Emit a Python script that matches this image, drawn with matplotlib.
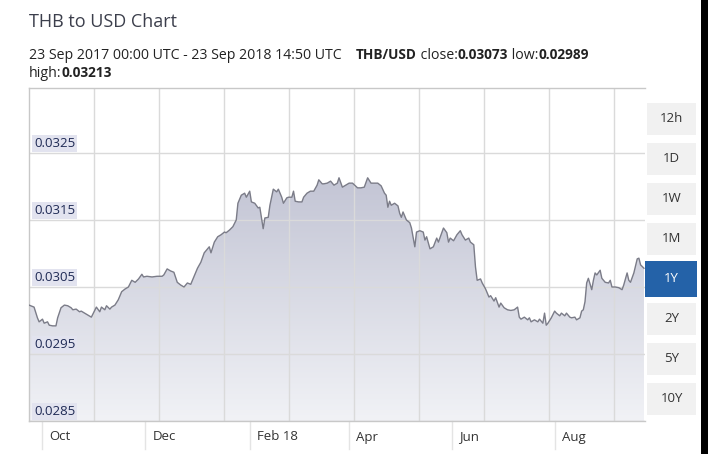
import numpy as np
import matplotlib.pyplot as plt
import matplotlib.dates as mdates
from matplotlib.colors import LinearSegmentedColormap
from matplotlib.patches import Rectangle

plt.rcParams['font.family'] = ['Open Sans', 'DejaVu Sans']

start = np.datetime64('2017-09-23')
end = np.datetime64('2018-09-23T14:50')

# days after 23 Sep 2017
days = [0, 3, 5, 6, 8, 9, 11, 12, 14, 16, 17, 19, 21, 23, 25, 26, 28, 30, 31, 33,
        35, 37, 38, 40, 42, 43, 45, 46, 48, 49, 51, 53, 55, 57, 59, 61, 63, 65, 67, 68,
        70, 73, 76, 79, 80, 82, 84, 86, 88, 90, 92, 94, 96, 98, 100, 102, 104, 105, 107, 108,
        110, 112, 114, 116, 117, 119, 121, 123, 124, 126, 128, 129, 131, 132, 134, 136, 137, 139, 140, 142,
        143, 145, 147, 148, 150, 151, 153, 154, 156, 157, 158, 160, 162, 163, 165, 167, 169, 171, 172, 174,
        175, 177, 179, 181, 183, 184, 186, 188, 190, 192, 195, 197, 199, 201, 203, 205, 207, 209, 211, 212,
        213, 214, 215, 217, 219, 220, 221, 222, 224, 226, 227, 229, 230, 232, 234, 235, 236, 238, 240, 242,
        243, 245, 246, 248, 249, 250, 252, 254, 256, 257, 259, 261, 262, 264, 265, 266, 268, 269, 271, 273,
        274, 276, 277, 279, 280, 282, 284, 286, 288, 290, 291, 292, 294, 296, 297, 298, 300, 302, 303, 305,
        306, 307, 308, 310, 312, 313, 315, 316, 318, 319, 321, 322, 324, 325, 327, 328, 329, 330, 331, 332,
        334, 335, 336, 337, 339, 340, 342, 344, 345, 346, 348, 350, 352, 353, 355, 356, 357, 359, 361, 362,
        363, 365]
rate = [0.03023, 0.03020, 0.03004, 0.02998, 0.03002, 0.02996, 0.02998, 0.02993, 0.02992, 0.02992,
        0.03004, 0.03019, 0.03023, 0.03022, 0.03019, 0.03016, 0.03017, 0.03013, 0.03014, 0.03011,
        0.03008, 0.03005, 0.03010, 0.03020, 0.03013, 0.03020, 0.03016, 0.03022, 0.03017, 0.03020,
        0.03023, 0.03031, 0.03043, 0.03047, 0.03050, 0.03060, 0.03057, 0.03062, 0.03069, 0.03065,
        0.03066, 0.03065, 0.03066, 0.03066, 0.03068, 0.03077, 0.03074, 0.03072, 0.03057, 0.03053,
        0.03050, 0.03056, 0.03054, 0.03066, 0.03078, 0.03087, 0.03101, 0.03104, 0.03110, 0.03101,
        0.03117, 0.03125, 0.03128, 0.03132, 0.03131, 0.03135, 0.03140, 0.03150, 0.03175, 0.03187,
        0.03190, 0.03184, 0.03193, 0.03177, 0.03175, 0.03168, 0.03169, 0.03137, 0.03153, 0.03154,
        0.03172, 0.03196, 0.03192, 0.03196, 0.03184, 0.03175, 0.03183, 0.03184, 0.03184, 0.03193,
        0.03178, 0.03177, 0.03177, 0.03184, 0.03190, 0.03193, 0.03193, 0.03202, 0.03210, 0.03204,
        0.03204, 0.03205, 0.03208, 0.03202, 0.03205, 0.03213, 0.03199, 0.03202, 0.03205, 0.03205,
        0.03198, 0.03198, 0.03199, 0.03213, 0.03205, 0.03205, 0.03205, 0.03201, 0.03190, 0.03187,
        0.03169, 0.03178, 0.03172, 0.03175, 0.03171, 0.03160, 0.03154, 0.03162, 0.03150, 0.03146,
        0.03138, 0.03110, 0.03132, 0.03134, 0.03132, 0.03120, 0.03125, 0.03107, 0.03110, 0.03123,
        0.03117, 0.03131, 0.03138, 0.03131, 0.03117, 0.03123, 0.03119, 0.03128, 0.03134, 0.03128,
        0.03120, 0.03123, 0.03117, 0.03113, 0.03080, 0.03060, 0.03062, 0.03056, 0.03047, 0.03035,
        0.03037, 0.03029, 0.03034, 0.03020, 0.03026, 0.03019, 0.03016, 0.03015, 0.03016, 0.03020,
        0.03005, 0.03002, 0.03005, 0.03001, 0.03004, 0.02998, 0.03001, 0.02998, 0.03002, 0.02996,
        0.03011, 0.02993, 0.02996, 0.03004, 0.03014, 0.03011, 0.03007, 0.03011, 0.03007, 0.03011,
        0.03005, 0.03004, 0.03005, 0.03001, 0.03004, 0.03014, 0.03016, 0.03028, 0.03056, 0.03063,
        0.03046, 0.03060, 0.03071, 0.03068, 0.03075, 0.03063, 0.03057, 0.03056, 0.03060, 0.03050,
        0.03050, 0.03049, 0.03046, 0.03053, 0.03071, 0.03060, 0.03057, 0.03071, 0.03092, 0.03093,
        0.03083, 0.03078]

y_ticks = [0.0285, 0.0295, 0.0305, 0.0315, 0.0325]
y_labels = ['0.0285', '0.0295', '0.0305', '0.0315', '0.0325']
month_starts = ['2017-10-01', '2017-12-01', '2018-02-01', '2018-04-01', '2018-06-01', '2018-08-01']
month_labels = ['Oct', 'Dec', 'Feb 18', 'Apr', 'Jun', 'Aug']
buttons = ['12h', '1D', '1W', '1M', '1Y', '2Y', '5Y', '10Y']
active = '1Y'

W, H = 708, 454
fig = plt.figure(figsize=(W / 100, H / 100), dpi=100)
fig.patch.set_facecolor('white')

ax = fig.add_axes([29 / W, 33 / H, 616 / W, 333 / H])
x = mdates.date2num(start + np.array(days).astype('timedelta64[D]'))
x0 = mdates.date2num(start)
x1 = mdates.date2num(end)
ybot, ytop = 0.0285, 0.03347

# gradient fill under the line
poly = ax.fill_between(x, rate, ybot, color='none', lw=0)
cmap = LinearSegmentedColormap.from_list('fill', ['#f1f2f6', '#c2c4d4'])
grad = np.linspace(1, 0, 256).reshape(-1, 1)
im = ax.imshow(grad, extent=[x0, x1, ybot, 0.0322], aspect='auto', cmap=cmap,
               origin='upper', vmin=0, vmax=1, zorder=1)
im.set_clip_path(poly.get_paths()[0], transform=ax.transData)
ax.plot(x, rate, color='#7b7c88', lw=1.0, zorder=3)

# grid
for v in y_ticks:
    ax.axhline(v, color='#dadada', lw=1, zorder=2)
for k in range(1, 10):
    f = k * 65 / 616
    ax.plot([f, f], [0, 1], transform=ax.transAxes, color='#dadada', lw=1, zorder=2)

ax.set_xlim(x0, x1)
ax.set_ylim(ybot, ytop)
ax.set_xticks([])
ax.set_yticks([])
for s in ['top', 'left', 'bottom']:
    ax.spines[s].set_color('#c8c8c8')
    ax.spines[s].set_linewidth(1)
ax.spines['right'].set_visible(False)

# y labels sit inside the plot, just above their grid line
for v, lab in zip(y_ticks, y_labels):
    ax.annotate(lab, xy=(0, v), xycoords=('axes fraction', 'data'),
                xytext=(5, 3), textcoords='offset pixels', ha='left', va='bottom',
                fontsize=9.5, color='#1f2a55', zorder=5,
                bbox=dict(facecolor='#e2e3ef', edgecolor='none', pad=1.2))

# month labels below the axis with faint separators
for d, lab in zip(month_starts, month_labels):
    mx = mdates.date2num(np.datetime64(d))
    ax.plot([mx, mx], [0, -0.085], transform=ax.get_xaxis_transform(),
            color='#e4e4e4', lw=1, clip_on=False)
    ax.annotate(lab, xy=(mx, 0), xycoords=('data', 'axes fraction'),
                xytext=(7, -16), textcoords='offset pixels', ha='left', va='center',
                fontsize=9.5, color='#333333', annotation_clip=False)

# header
fig.text(29 / W, 1 - 22 / H, 'THB to USD Chart', fontsize=13, color='#3c3f4c',
         ha='left', va='center')

line2 = [('23 Sep 2017 00:00 UTC - 23 Sep 2018 14:50 UTC    ', False), ('THB/USD', True),
         (' close:', False), ('0.03073', True), (' low:', False), ('0.02989', True)]
line3 = [('high:', False), ('0.03213', True)]

renderer = fig.canvas.get_renderer()
for pieces, base in [(line2, 59), (line3, 77)]:
    xpix = 29
    for s, bold in pieces:
        fs = 9.8 if bold else 10.2
        t = fig.text(xpix / W, 1 - base / H, s, fontsize=fs, color='#222222',
                     fontweight='bold' if bold else 'normal', ha='left', va='baseline')
        xpix += t.get_window_extent(renderer).width

# range buttons on the right
for i, b in enumerate(buttons):
    top = 103 + 40 * i
    if b == active:
        rx, rw, ry, rh, fc, tc = 645, 52, top - 2, 36, '#2462a8', 'white'
    else:
        rx, rw, ry, rh, fc, tc = 647, 49, top, 32, '#f1f1f1', '#333333'
    fig.add_artist(Rectangle((rx / W, 1 - (ry + rh) / H), rw / W, rh / H,
                             transform=fig.transFigure, facecolor=fc, edgecolor='none'))
    fig.text((rx + rw / 2) / W, 1 - (ry + rh / 2) / H, b, fontsize=9.5, color=tc,
             ha='center', va='center')

# dark strip at the right edge of the screenshot
fig.add_artist(Rectangle((701 / W, 0), 7 / W, 1, transform=fig.transFigure,
                         facecolor='black', edgecolor='none'))

fig.savefig('out.png', dpi=100)
